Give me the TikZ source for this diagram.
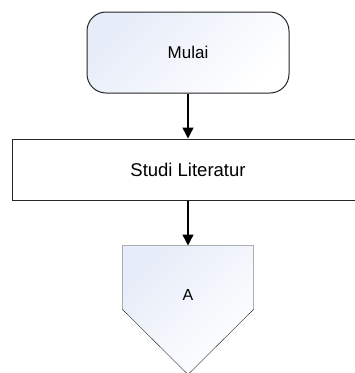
\documentclass[tikz,border=0pt]{standalone}
\usepackage{fontspec}
\setmainfont{Liberation Sans}
\usetikzlibrary{arrows.meta,calc,backgrounds}
\definecolor{boxshade}{RGB}{230,236,248}

\begin{document}
\begin{tikzpicture}[x=1pt, y=-1pt, line width=1pt,
  shadedbox/.style={draw=black!85, left color=boxshade, right color=white, shading angle=45},
  flow/.style={line width=1.4pt, -{Triangle[length=11pt,width=11pt]}}]
\useasboundingbox (0,0) rectangle (355,373);
% start
\node[shadedbox, rounded corners=19pt, minimum width=202pt, minimum height=81pt,
  font=\fontsize{17}{20}\selectfont] (mulai) at (188,52.5) {Mulai};
% process
\node[draw=black!85, fill=white, minimum width=352pt, minimum height=61pt,
  font=\fontsize{18.5}{22}\selectfont] (studi) at (188,169.5) {Studi Literatur};
% off-page connector
\node[inner sep=0pt, minimum width=130pt, minimum height=97pt,
  font=\fontsize{16}{19}\selectfont] (konektor) at (188,294.5) {A};
\begin{scope}[on background layer]
\shade[shadedbox] (konektor.north west) -- (konektor.north east)
  -- ($(konektor.north east)+(0,64)$) -- ($(konektor.north)+(0,129)$)
  -- ($(konektor.north west)+(0,64)$) -- cycle;
\end{scope}
\draw[flow] (mulai) -- (studi);
\draw[flow] (studi) -- (konektor);
\end{tikzpicture}
\end{document}
